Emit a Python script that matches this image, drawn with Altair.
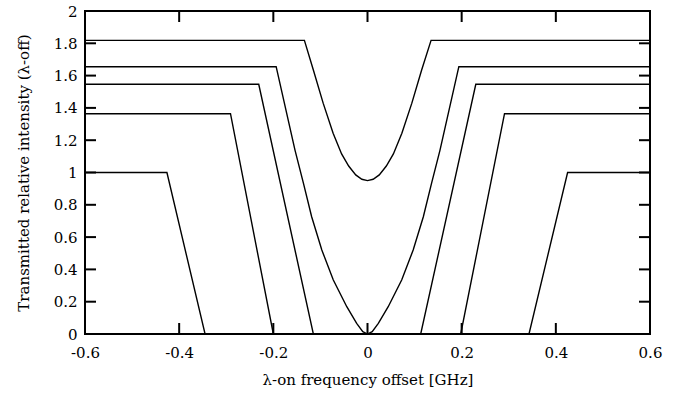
import altair as alt
import pandas as pd

# ---- data ----
# curve with plateau 1.82 (minimum 0.95 at 0)
c1_x = [-0.6, -0.134, -0.115, -0.094, -0.073, -0.055, -0.040, -0.025, -0.012, 0.0,
        0.012, 0.025, 0.040, 0.055, 0.073, 0.094, 0.115, 0.135, 0.6]
c1_y = [1.818, 1.818, 1.635, 1.428, 1.243, 1.115, 1.040, 0.985, 0.958, 0.950,
        0.958, 0.985, 1.040, 1.115, 1.243, 1.428, 1.635, 1.818, 1.818]
# curve with plateau 1.66 (touches 0 at 0)
c2_x = [-0.6, -0.194, -0.154, -0.136, -0.1186, -0.097, -0.0726, -0.044, -0.023, -0.010, 0.0,
        0.010, 0.023, 0.044, 0.0726, 0.097, 0.1186, 0.136, 0.154, 0.194, 0.6]
c2_y = [1.655, 1.655, 1.139, 0.933, 0.726, 0.520, 0.334, 0.169, 0.066, 0.015, 0.0,
        0.015, 0.066, 0.169, 0.334, 0.520, 0.726, 0.933, 1.139, 1.655, 1.655]
# curve with plateau 1.55
c3_left_x = [-0.6, -0.231, -0.115]
c3_left_y = [1.546, 1.546, 0.0]
c3_right_x = [0.113, 0.230, 0.6]
c3_right_y = [0.0, 1.546, 1.546]
# curve with plateau 1.37
c4_left_x = [-0.6, -0.291, -0.200]
c4_left_y = [1.364, 1.364, 0.0]
c4_right_x = [0.198, 0.291, 0.6]
c4_right_y = [0.0, 1.364, 1.364]
# curve with plateau 1.0
c5_left_x = [-0.6, -0.426, -0.345]
c5_left_y = [1.0, 1.0, 0.0]
c5_right_x = [0.343, 0.425, 0.6]
c5_right_y = [0.0, 1.0, 1.0]

x_ticks = [-0.6, -0.4, -0.2, 0.0, 0.2, 0.4, 0.6]
y_ticks = [0.0, 0.2, 0.4, 0.6, 0.8, 1.0, 1.2, 1.4, 1.6, 1.8, 2.0]
x_inner_ticks = [-0.4, -0.2, 0.0, 0.2, 0.4]
y_inner_ticks = [0.2, 0.4, 0.6, 0.8, 1.0, 1.2, 1.4, 1.6, 1.8]

segments = [
    ("c1", c1_x, c1_y), ("c2", c2_x, c2_y),
    ("c3a", c3_left_x, c3_left_y), ("c3b", c3_right_x, c3_right_y),
    ("c4a", c4_left_x, c4_left_y), ("c4b", c4_right_x, c4_right_y),
    ("c5a", c5_left_x, c5_left_y), ("c5b", c5_right_x, c5_right_y),
]
rows = []
for name, xs, ys in segments:
    for i, (a, b) in enumerate(zip(xs, ys)):
        rows.append({"seg": name, "order": i, "x": a, "y": b})
df = pd.DataFrame(rows)

W, H = 565, 323
TICK = 11
FONT = "DejaVu Serif"

xscale = alt.Scale(domain=[-0.6, 0.6], nice=False, zero=False)
yscale = alt.Scale(domain=[0, 2], nice=False)

label_expr = "datum.value < 0 ? '-' + format(-datum.value, '.1~f') : format(datum.value, '.1~f')"

x_axis = alt.Axis(values=x_ticks, labelExpr=label_expr, labelPadding=11,
                  title="λ-on frequency offset [GHz]", titlePadding=12)
y_axis = alt.Axis(values=y_ticks, labelExpr=label_expr, labelPadding=8,
                  title="Transmitted relative intensity (λ-off)", titlePadding=22)

lines = alt.Chart(df).mark_line(color="black", strokeWidth=1.4, clip=True).encode(
    x=alt.X("x:Q", scale=xscale, axis=x_axis),
    y=alt.Y("y:Q", scale=yscale, axis=y_axis),
    detail="seg:N",
    order="order:Q",
)

ydf = pd.DataFrame({"y": y_inner_ticks})
xdf = pd.DataFrame({"x": x_inner_ticks})

left_ticks = alt.Chart(ydf).mark_rule(color="black", strokeWidth=2).encode(
    y=alt.Y("y:Q", scale=yscale, axis=y_axis), x=alt.value(0), x2=alt.value(TICK))
right_ticks = alt.Chart(ydf).mark_rule(color="black", strokeWidth=2).encode(
    y=alt.Y("y:Q", scale=yscale, axis=y_axis), x=alt.value(W - TICK), x2=alt.value(W))
bottom_ticks = alt.Chart(xdf).mark_rule(color="black", strokeWidth=2).encode(
    x=alt.X("x:Q", scale=xscale, axis=x_axis), y=alt.value(H - TICK), y2=alt.value(H))
top_ticks = alt.Chart(xdf).mark_rule(color="black", strokeWidth=2).encode(
    x=alt.X("x:Q", scale=xscale, axis=x_axis), y=alt.value(0), y2=alt.value(TICK))

chart = alt.layer(lines, left_ticks, right_ticks, bottom_ticks, top_ticks).properties(
    width=W, height=H,
    autosize=alt.AutoSizeParams(type="none"),
    padding={"left": 85, "top": 11, "right": 36, "bottom": 63},
    background="white",
).configure_view(
    stroke="black", strokeWidth=2
).configure_axis(
    ticks=False, domain=False, grid=False,
    labelFont=FONT, labelFontSize=15, labelColor="black",
    labelFlush=False, labelOverlap=False, labelBound=False,
    titleFont=FONT, titleFontSize=15, titleFontWeight="normal", titleColor="black",
)

chart.save("out.html", embed_options={"renderer": "svg", "actions": False})
